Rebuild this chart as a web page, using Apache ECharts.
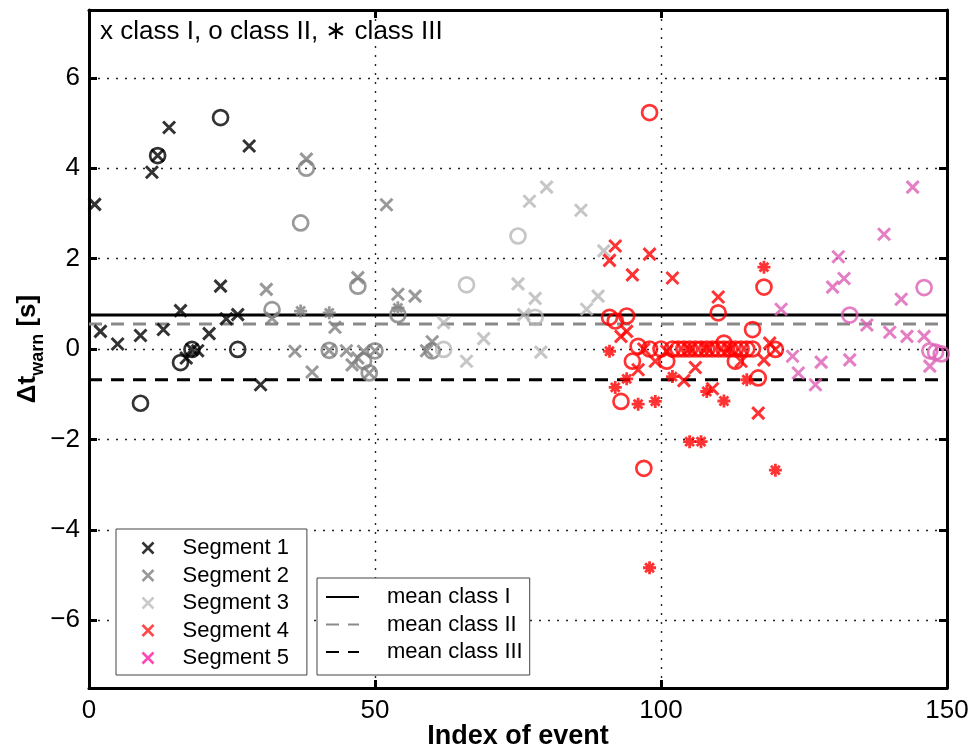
<!DOCTYPE html>
<html>
<head>
<meta charset="utf-8">
<script src="https://cdn.jsdelivr.net/npm/echarts@6/dist/echarts.min.js"></script>
<style>
  html, body { margin: 0; padding: 0; background: #fff; }
  #chart { width: 972px; height: 751px; }
</style>
</head>
<body>
<div id="chart"></div>
<script>
// Warning-time differences per event, split by segment and by class
// (x = class I, o = class II, * = class III). Pairs are [event index, Δt in s].
const seg1ClassI   = [[1,3.2],[11,3.91],[12,4.28],[14,4.9],[28,4.49],[23,1.39],[16,0.85],[2,0.39],[5,0.11],[9,0.3],[13,0.43],[21,0.34],[24,0.67],[26,0.76],[30,-0.79],[18,-0.01],[19,-0.04],[17,-0.2]];
const seg1ClassII  = [[23,5.12],[12,4.28],[16,-0.3],[18,-0.01],[26,-0.01],[9,-1.2]];
const seg1ClassIII = [];

const seg2ClassI   = [[38,4.2],[52,3.19],[31,1.32],[32,0.68],[43,0.48],[36,-0.05],[42,-0.03],[45,-0.04],[39,-0.51],[50,-0.04],[49,-0.53],[46,-0.35],[47,-0.2],[48,-0.05],[47,1.58],[54,1.21],[57,1.17],[60,0.16],[59,-0.04]];
const seg2ClassII  = [[38,4.0],[37,2.79],[32,0.87],[42,-0.03],[50,-0.04],[49,-0.53],[48,-0.27],[47,1.39],[54,0.76],[60,-0.04]];
const seg2ClassIII = [[37,0.84],[42,0.8],[54,0.91]];

const seg3ClassI   = [[62,0.58],[66,-0.27],[69,0.23],[75,1.44],[78,1.12],[77,3.27],[80,3.58],[86,3.07],[90,2.17],[89,1.17],[87,0.88],[76,0.76],[79,-0.07]];
const seg3ClassII  = [[62,-0.01],[66,1.42],[75,2.5],[78,0.7]];
const seg3ClassIII = [];

const seg4ClassI   = [[92,2.28],[91,1.96],[95,1.64],[98,2.1],[102,1.57],[110,1.15],[93,0.28],[94,0.39],[96,-0.46],[99,-0.27],[104,-0.7],[106,-0.41],[109,-0.88],[117,-1.42],[118,-0.24],[119,0.13],[120,-0.01],[114,-0.27],[97,0],[101,-0.05],[105,0],[108,0.02],[112,0]];
const seg4ClassII  = [[98,5.23],[110,0.8],[118,1.37],[116,0.43],[91,0.7],[92,0.62],[94,0.73],[96,0.06],[95,-0.27],[93,-1.16],[97,-2.64],[117,-0.64],[120,-0.01],[101,-0.27],[113,-0.27],[111,0.13],
                      [98,0],[100,0],[102,0],[103,0],[104,0],[105,0],[106,0],[107,0],[108,0],[109,0],[110,0],[111,0],[112,0],[113,0],[114,0],[115,0],[116,0]];
const seg4ClassIII = [[118,1.81],[91,-0.05],[94,-0.66],[92,-0.85],[96,-1.22],[99,-1.16],[102,-0.61],[108,-0.94],[111,-1.15],[115,-0.68],[105,-2.05],[107,-2.05],[120,-2.68],[98,-4.84]];

const seg5ClassI   = [[144,3.58],[139,2.54],[131,2.04],[132,1.56],[130,1.37],[142,1.1],[136,0.53],[140,0.37],[143,0.28],[146,0.28],[147,-0.38],[123,-0.16],[124,-0.53],[127,-0.79],[128,-0.29],[133,-0.24],[121,0.88]];
const seg5ClassII  = [[146,1.36],[133,0.75],[147,-0.04],[148,-0.07],[149,-0.11]];
const seg5ClassIII = [];

const segmentNames = ['Segment 1', 'Segment 2', 'Segment 3', 'Segment 4', 'Segment 5'];
const meanNames    = ['mean class I', 'mean class II', 'mean class III'];
const meanValues   = [0.75, 0.555, -0.68];
const xTicks = [0, 50, 100, 150];
const yTicks = [-6, -4, -2, 0, 2, 4, 6];

const segMarkerColors = ['#000000', '#7f7f7f', '#b8b8b8', '#ff0000', '#dd5fb5'];
const segLegendColors = ['#000000', '#7f7f7f', '#bdbdbd', '#ff1a1a', '#ff1aa0'];
const segData = [
  [seg1ClassI, seg1ClassII, seg1ClassIII],
  [seg2ClassI, seg2ClassII, seg2ClassIII],
  [seg3ClassI, seg3ClassII, seg3ClassIII],
  [seg4ClassI, seg4ClassII, seg4ClassIII],
  [seg5ClassI, seg5ClassII, seg5ClassIII]
];

const FONT = '"Liberation Sans", Arial, Helvetica, sans-serif';
const CROSS = 'path://M0,0L10,10M10,0L0,10';
const STAR  = 'path://M5,0L5,10M0,5L10,5M1.6,1.6L8.4,8.4M8.4,1.6L1.6,8.4';

const series = [];

// mean lines across the whole index range
const meanStyles = [
  { color: '#000000', type: 'solid' },
  { color: '#8a8a8a', type: [13, 9] },
  { color: '#000000', type: [13, 9] }
];
meanNames.forEach((name, i) => {
  series.push({
    name: name,
    type: 'line',
    data: [[0, meanValues[i]], [150, meanValues[i]]],
    symbol: 'none',
    silent: true,
    z: 2,
    itemStyle: { color: meanStyles[i].color },
    lineStyle: { color: meanStyles[i].color, width: 3, type: meanStyles[i].type }
  });
});

// markers: crosses, circles and asterisks per segment
const markerDefs = [
  { symbol: CROSS, size: 12, width: 3, suffix: ' class I' },
  { symbol: 'circle', size: 15, width: 2.7, suffix: ' class II' },
  { symbol: STAR, size: 13, width: 2.8, suffix: ' class III' }
];
segData.forEach((classes, s) => {
  classes.forEach((pts, c) => {
    const def = markerDefs[c];
    series.push({
      name: c === 0 ? segmentNames[s] : segmentNames[s] + def.suffix,
      type: 'scatter',
      data: pts,
      symbol: def.symbol,
      symbolSize: def.size,
      silent: true,
      z: 3,
      itemStyle: { color: 'none', borderColor: segMarkerColors[s], borderWidth: def.width }
    });
  });
});

const gridLine = { show: true, lineStyle: { color: '#222', width: 1.4, type: [2, 7] } };
const frameLine = { show: true, onZero: false, lineStyle: { color: '#000', width: 3 } };
const frameTick = { show: true, inside: true, length: 8, lineStyle: { color: '#000', width: 3 } };

const option = {
  animation: false,
  backgroundColor: '#ffffff',
  grid: { left: 89, right: 25, top: 10, bottom: 63, containLabel: false, outerBoundsMode: 'none' },
  xAxis: [
    {
      type: 'value', min: 0, max: 150, interval: 50, position: 'bottom',
      name: 'Index of event', nameLocation: 'middle', nameGap: 35, nameMoveOverlap: false,
      nameTextStyle: { fontFamily: FONT, fontSize: 27, fontWeight: 'bold', color: '#000',
                       verticalAlign: 'top' },
      axisLine: frameLine,
      axisTick: Object.assign({ customValues: xTicks }, frameTick),
      axisLabel: { fontFamily: FONT, fontSize: 26, color: '#000', margin: 10, customValues: xTicks },
      splitLine: gridLine
    },
    {
      type: 'value', min: 0, max: 150, interval: 50, position: 'top',
      axisLine: frameLine,
      axisTick: Object.assign({ customValues: xTicks }, frameTick),
      axisLabel: { show: false },
      splitLine: { show: false }
    }
  ],
  yAxis: [
    {
      type: 'value', min: -7.5, max: 7.5, position: 'left',
      name: '{a|Δt}{b|warn}{a| [s]}', nameLocation: 'middle', nameGap: 42, nameRotate: 90,
      nameMoveOverlap: false,
      nameTextStyle: {
        fontFamily: FONT, color: '#000',
        rich: {
          a: { fontFamily: FONT, fontSize: 26, fontWeight: 'bold', color: '#000', lineHeight: 30, verticalAlign: 'middle' },
          b: { fontFamily: FONT, fontSize: 18, fontWeight: 'bold', color: '#000', lineHeight: 38, verticalAlign: 'bottom' }
        }
      },
      axisLine: frameLine,
      axisTick: Object.assign({ customValues: yTicks }, frameTick),
      axisLabel: { fontFamily: FONT, fontSize: 26, color: '#000', margin: 9, customValues: yTicks,
                   formatter: v => (v < 0 ? '\u2212' + Math.abs(v) : String(v)) },
      splitLine: gridLine
    },
    {
      type: 'value', min: -7.5, max: 7.5, position: 'right',
      axisLine: frameLine,
      axisTick: Object.assign({ customValues: yTicks }, frameTick),
      axisLabel: { show: false },
      splitLine: { show: false }
    }
  ],
  legend: [
    {
      orient: 'vertical', left: 116, top: 529,
      padding: [8, 18, 6, 24], itemGap: 5.5, itemWidth: 11, itemHeight: 11,
      backgroundColor: '#fff', borderColor: '#444', borderWidth: 1,
      selectedMode: false,
      textStyle: { fontFamily: FONT, fontSize: 22, color: '#000', padding: [0, 0, 0, 24] },
      data: segmentNames.map((n, i) => ({
        name: n, icon: CROSS,
        itemStyle: { color: 'none', borderColor: segLegendColors[i], borderWidth: 2.6 }
      }))
    },
    {
      orient: 'vertical', left: 317, top: 578,
      padding: [8, 7, 12, 8], itemGap: 5.5, itemWidth: 33, itemHeight: 11,
      backgroundColor: '#fff', borderColor: '#444', borderWidth: 1,
      selectedMode: false,
      textStyle: { fontFamily: FONT, fontSize: 22, color: '#000', padding: [0, 0, 0, 23] },
      data: meanNames.map(n => ({ name: n, itemStyle: { opacity: 0 } }))
    }
  ],
  graphic: [
    {
      type: 'text', left: 100, top: 19, silent: true,
      style: { text: 'x class I, o class II, \u2217 class III', font: '26px ' + FONT, fill: '#000' }
    }
  ],
  series: series
};

const chart = echarts.init(document.getElementById('chart'), null, { renderer: 'canvas' });
chart.setOption(option);
</script>
</body>
</html>
